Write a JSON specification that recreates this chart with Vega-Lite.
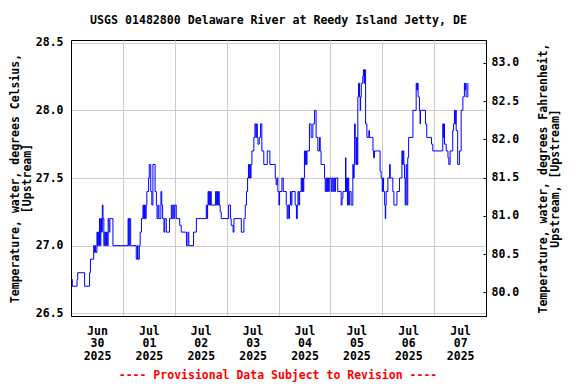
{
 "$schema": "https://vega.github.io/schema/vega-lite/v6.json",
 "width": 415,
 "height": 276,
 "autosize": "none",
 "padding": {"left": 71, "top": 40, "right": 90, "bottom": 68},
 "background": "white",
 "title": {"text": "USGS 01482800 Delaware River at Reedy Island Jetty, DE", "anchor": "middle", "frame": "group", "font": "DejaVu Sans Mono", "fontSize": 11.6, "fontWeight": "bold", "color": "black", "offset": 1, "baseline": "alphabetic"},
 "data": {"values": [
  {"t":"2025-06-30T00:00","v":26.75},{"t":"2025-06-30T00:36","v":26.7},{"t":"2025-06-30T02:48","v":26.75},{"t":"2025-06-30T03:06","v":26.8},
  {"t":"2025-06-30T06:18","v":26.7},{"t":"2025-06-30T08:36","v":26.8},{"t":"2025-06-30T09:00","v":26.9},{"t":"2025-06-30T10:30","v":27.0},
  {"t":"2025-06-30T10:48","v":26.95},{"t":"2025-06-30T11:06","v":27.0},{"t":"2025-06-30T11:24","v":26.95},{"t":"2025-06-30T12:00","v":27.1},
  {"t":"2025-06-30T12:18","v":27.0},{"t":"2025-06-30T12:36","v":27.1},{"t":"2025-06-30T12:54","v":27.0},{"t":"2025-06-30T13:12","v":27.2},
  {"t":"2025-06-30T13:30","v":27.0},{"t":"2025-06-30T13:48","v":27.2},{"t":"2025-06-30T14:06","v":27.1},{"t":"2025-06-30T14:30","v":27.3},
  {"t":"2025-06-30T14:48","v":27.2},{"t":"2025-06-30T15:12","v":27.0},{"t":"2025-06-30T15:36","v":27.1},{"t":"2025-06-30T16:00","v":27.0},
  {"t":"2025-06-30T16:24","v":27.1},{"t":"2025-06-30T16:48","v":27.0},{"t":"2025-06-30T17:12","v":27.2},{"t":"2025-06-30T17:36","v":27.1},
  {"t":"2025-06-30T18:00","v":27.2},{"t":"2025-06-30T19:24","v":27.0},
  {"t":"2025-07-01T02:24","v":27.2},{"t":"2025-07-01T02:42","v":27.0},{"t":"2025-07-01T03:00","v":27.2},{"t":"2025-07-01T03:36","v":27.0},
  {"t":"2025-07-01T06:12","v":26.9},{"t":"2025-07-01T06:48","v":27.0},{"t":"2025-07-01T07:00","v":26.9},{"t":"2025-07-01T07:36","v":27.0},
  {"t":"2025-07-01T08:00","v":27.1},{"t":"2025-07-01T08:36","v":27.2},{"t":"2025-07-01T09:18","v":27.3},{"t":"2025-07-01T09:36","v":27.2},
  {"t":"2025-07-01T10:00","v":27.3},{"t":"2025-07-01T10:24","v":27.2},{"t":"2025-07-01T10:48","v":27.3},{"t":"2025-07-01T11:06","v":27.4},
  {"t":"2025-07-01T11:54","v":27.5},{"t":"2025-07-01T12:12","v":27.6},{"t":"2025-07-01T12:54","v":27.4},{"t":"2025-07-01T13:24","v":27.3},
  {"t":"2025-07-01T13:54","v":27.6},{"t":"2025-07-01T14:54","v":27.4},{"t":"2025-07-01T15:30","v":27.3},{"t":"2025-07-01T15:48","v":27.2},
  {"t":"2025-07-01T16:18","v":27.3},{"t":"2025-07-01T16:42","v":27.2},{"t":"2025-07-01T17:36","v":27.4},{"t":"2025-07-01T18:00","v":27.3},
  {"t":"2025-07-01T18:24","v":27.2},{"t":"2025-07-01T19:00","v":27.1},{"t":"2025-07-01T19:24","v":27.2},{"t":"2025-07-01T20:06","v":27.1},
  {"t":"2025-07-01T21:36","v":27.2},{"t":"2025-07-01T22:24","v":27.3},{"t":"2025-07-01T22:48","v":27.2},{"t":"2025-07-01T23:12","v":27.3},
  {"t":"2025-07-01T23:36","v":27.2},
  {"t":"2025-07-02T00:00","v":27.3},{"t":"2025-07-02T00:42","v":27.2},{"t":"2025-07-02T02:18","v":27.15},{"t":"2025-07-02T03:00","v":27.1},
  {"t":"2025-07-02T05:24","v":27.0},{"t":"2025-07-02T06:06","v":27.1},{"t":"2025-07-02T06:30","v":27.0},{"t":"2025-07-02T08:42","v":27.1},
  {"t":"2025-07-02T10:00","v":27.2},{"t":"2025-07-02T14:36","v":27.3},{"t":"2025-07-02T14:54","v":27.2},{"t":"2025-07-02T15:12","v":27.3},
  {"t":"2025-07-02T15:24","v":27.4},{"t":"2025-07-02T15:42","v":27.3},{"t":"2025-07-02T16:00","v":27.4},{"t":"2025-07-02T16:18","v":27.3},
  {"t":"2025-07-02T16:36","v":27.4},{"t":"2025-07-02T16:54","v":27.3},{"t":"2025-07-02T18:54","v":27.4},{"t":"2025-07-02T19:12","v":27.3},
  {"t":"2025-07-02T19:30","v":27.4},{"t":"2025-07-02T19:48","v":27.3},{"t":"2025-07-02T20:18","v":27.4},{"t":"2025-07-02T20:36","v":27.3},
  {"t":"2025-07-02T21:00","v":27.25},{"t":"2025-07-02T21:30","v":27.2},
  {"t":"2025-07-03T00:54","v":27.3},{"t":"2025-07-03T01:48","v":27.2},{"t":"2025-07-03T02:06","v":27.15},{"t":"2025-07-03T03:00","v":27.1},
  {"t":"2025-07-03T03:24","v":27.2},{"t":"2025-07-03T06:48","v":27.1},{"t":"2025-07-03T08:00","v":27.2},{"t":"2025-07-03T08:36","v":27.3},
  {"t":"2025-07-03T09:12","v":27.4},{"t":"2025-07-03T09:42","v":27.5},{"t":"2025-07-03T10:06","v":27.6},{"t":"2025-07-03T10:24","v":27.5},
  {"t":"2025-07-03T10:42","v":27.6},{"t":"2025-07-03T11:00","v":27.5},{"t":"2025-07-03T11:18","v":27.6},{"t":"2025-07-03T11:42","v":27.7},
  {"t":"2025-07-03T12:36","v":27.8},{"t":"2025-07-03T13:06","v":27.9},{"t":"2025-07-03T13:30","v":27.8},{"t":"2025-07-03T13:54","v":27.9},
  {"t":"2025-07-03T14:12","v":27.8},{"t":"2025-07-03T14:30","v":27.75},{"t":"2025-07-03T15:06","v":27.8},{"t":"2025-07-03T15:42","v":27.9},
  {"t":"2025-07-03T16:18","v":27.7},{"t":"2025-07-03T17:12","v":27.6},{"t":"2025-07-03T18:48","v":27.7},{"t":"2025-07-03T20:00","v":27.6},
  {"t":"2025-07-03T22:30","v":27.5},{"t":"2025-07-03T22:54","v":27.45},{"t":"2025-07-03T23:18","v":27.5},{"t":"2025-07-03T23:42","v":27.4},
  {"t":"2025-07-04T00:12","v":27.3},{"t":"2025-07-04T00:30","v":27.4},{"t":"2025-07-04T01:36","v":27.5},{"t":"2025-07-04T02:12","v":27.4},
  {"t":"2025-07-04T03:36","v":27.3},{"t":"2025-07-04T04:00","v":27.2},{"t":"2025-07-04T04:24","v":27.3},{"t":"2025-07-04T04:48","v":27.2},
  {"t":"2025-07-04T05:06","v":27.3},{"t":"2025-07-04T05:30","v":27.4},{"t":"2025-07-04T05:48","v":27.3},{"t":"2025-07-04T06:12","v":27.4},
  {"t":"2025-07-04T07:42","v":27.3},{"t":"2025-07-04T08:18","v":27.2},{"t":"2025-07-04T08:42","v":27.3},{"t":"2025-07-04T09:00","v":27.4},
  {"t":"2025-07-04T09:24","v":27.3},{"t":"2025-07-04T09:48","v":27.4},{"t":"2025-07-04T10:30","v":27.5},{"t":"2025-07-04T10:48","v":27.4},
  {"t":"2025-07-04T11:06","v":27.5},{"t":"2025-07-04T11:24","v":27.4},{"t":"2025-07-04T11:42","v":27.5},{"t":"2025-07-04T12:00","v":27.7},
  {"t":"2025-07-04T12:18","v":27.6},{"t":"2025-07-04T12:36","v":27.7},{"t":"2025-07-04T12:54","v":27.6},{"t":"2025-07-04T13:12","v":27.7},
  {"t":"2025-07-04T14:18","v":27.9},{"t":"2025-07-04T15:06","v":27.8},{"t":"2025-07-04T15:54","v":27.9},{"t":"2025-07-04T16:42","v":28.0},
  {"t":"2025-07-04T17:24","v":27.8},{"t":"2025-07-04T18:12","v":27.7},{"t":"2025-07-04T19:00","v":27.8},{"t":"2025-07-04T19:18","v":27.7},
  {"t":"2025-07-04T19:42","v":27.6},{"t":"2025-07-04T21:18","v":27.5},{"t":"2025-07-04T21:36","v":27.4},{"t":"2025-07-04T22:00","v":27.5},
  {"t":"2025-07-04T22:18","v":27.4},{"t":"2025-07-04T22:42","v":27.5},{"t":"2025-07-04T23:06","v":27.4},{"t":"2025-07-04T23:30","v":27.5},
  {"t":"2025-07-05T00:24","v":27.4},{"t":"2025-07-05T00:48","v":27.5},{"t":"2025-07-05T01:12","v":27.4},{"t":"2025-07-05T01:36","v":27.5},
  {"t":"2025-07-05T02:00","v":27.4},{"t":"2025-07-05T02:24","v":27.5},{"t":"2025-07-05T03:24","v":27.4},{"t":"2025-07-05T05:00","v":27.3},
  {"t":"2025-07-05T05:24","v":27.35},{"t":"2025-07-05T05:48","v":27.4},{"t":"2025-07-05T07:00","v":27.65},{"t":"2025-07-05T07:12","v":27.5},
  {"t":"2025-07-05T07:24","v":27.4},{"t":"2025-07-05T07:36","v":27.5},{"t":"2025-07-05T07:54","v":27.3},{"t":"2025-07-05T08:12","v":27.5},
  {"t":"2025-07-05T08:30","v":27.3},{"t":"2025-07-05T08:54","v":27.4},{"t":"2025-07-05T09:36","v":27.3},{"t":"2025-07-05T10:24","v":27.6},
  {"t":"2025-07-05T10:42","v":27.5},{"t":"2025-07-05T11:00","v":27.6},{"t":"2025-07-05T11:12","v":27.9},{"t":"2025-07-05T11:30","v":27.8},
  {"t":"2025-07-05T11:48","v":27.6},{"t":"2025-07-05T12:06","v":27.8},{"t":"2025-07-05T12:24","v":27.6},{"t":"2025-07-05T12:42","v":28.1},
  {"t":"2025-07-05T13:00","v":28.2},{"t":"2025-07-05T13:30","v":28.1},{"t":"2025-07-05T13:48","v":28.0},{"t":"2025-07-05T14:00","v":28.1},
  {"t":"2025-07-05T14:18","v":28.2},{"t":"2025-07-05T15:00","v":28.25},{"t":"2025-07-05T15:18","v":28.3},{"t":"2025-07-05T15:36","v":28.2},
  {"t":"2025-07-05T15:48","v":28.3},{"t":"2025-07-05T16:18","v":27.9},{"t":"2025-07-05T16:54","v":27.8},{"t":"2025-07-05T17:48","v":27.85},
  {"t":"2025-07-05T18:06","v":27.8},{"t":"2025-07-05T19:42","v":27.7},{"t":"2025-07-05T20:00","v":27.65},{"t":"2025-07-05T20:24","v":27.7},
  {"t":"2025-07-05T23:00","v":27.55},{"t":"2025-07-05T23:30","v":27.5},
  {"t":"2025-07-06T00:00","v":27.4},{"t":"2025-07-06T00:18","v":27.5},{"t":"2025-07-06T00:36","v":27.4},{"t":"2025-07-06T01:06","v":27.3},
  {"t":"2025-07-06T01:24","v":27.2},{"t":"2025-07-06T01:36","v":27.3},{"t":"2025-07-06T01:48","v":27.4},{"t":"2025-07-06T02:36","v":27.5},
  {"t":"2025-07-06T03:24","v":27.6},{"t":"2025-07-06T03:42","v":27.5},{"t":"2025-07-06T04:54","v":27.4},{"t":"2025-07-06T05:24","v":27.3},
  {"t":"2025-07-06T06:48","v":27.4},{"t":"2025-07-06T08:00","v":27.5},{"t":"2025-07-06T09:06","v":27.7},{"t":"2025-07-06T09:24","v":27.6},
  {"t":"2025-07-06T09:42","v":27.7},{"t":"2025-07-06T10:00","v":27.6},{"t":"2025-07-06T10:18","v":27.5},{"t":"2025-07-06T10:36","v":27.3},
  {"t":"2025-07-06T10:54","v":27.5},{"t":"2025-07-06T11:06","v":27.6},{"t":"2025-07-06T11:24","v":27.3},{"t":"2025-07-06T11:48","v":27.65},
  {"t":"2025-07-06T12:12","v":27.8},{"t":"2025-07-06T14:12","v":28.0},{"t":"2025-07-06T15:42","v":28.2},{"t":"2025-07-06T16:00","v":28.15},
  {"t":"2025-07-06T16:18","v":28.2},{"t":"2025-07-06T16:36","v":28.1},{"t":"2025-07-06T17:12","v":28.0},{"t":"2025-07-06T17:30","v":27.9},
  {"t":"2025-07-06T17:42","v":28.0},{"t":"2025-07-06T20:00","v":27.9},{"t":"2025-07-06T20:36","v":27.8},{"t":"2025-07-06T22:48","v":27.75},
  {"t":"2025-07-06T23:24","v":27.7},
  {"t":"2025-07-07T04:00","v":27.9},{"t":"2025-07-07T04:18","v":27.8},{"t":"2025-07-07T04:36","v":27.9},{"t":"2025-07-07T04:48","v":27.75},
  {"t":"2025-07-07T05:36","v":27.7},{"t":"2025-07-07T06:24","v":27.65},{"t":"2025-07-07T06:48","v":27.6},{"t":"2025-07-07T07:24","v":27.7},
  {"t":"2025-07-07T08:36","v":27.85},{"t":"2025-07-07T09:00","v":27.9},{"t":"2025-07-07T09:24","v":28.0},{"t":"2025-07-07T09:42","v":27.9},
  {"t":"2025-07-07T10:00","v":28.0},{"t":"2025-07-07T10:12","v":27.85},{"t":"2025-07-07T10:54","v":27.6},{"t":"2025-07-07T11:42","v":27.7},
  {"t":"2025-07-07T12:30","v":28.0},{"t":"2025-07-07T13:18","v":28.1},{"t":"2025-07-07T14:00","v":28.2},{"t":"2025-07-07T14:18","v":28.15},
  {"t":"2025-07-07T14:36","v":28.2},{"t":"2025-07-07T14:48","v":28.1},{"t":"2025-07-07T15:36","v":28.2},{"t":"2025-07-07T15:48","v":28.2}
 ]},
 "layer": [
  {
   "mark": {"type": "line", "interpolate": "step-after", "color": "#0000ff", "strokeWidth": 1, "clip": true},
   "encoding": {
    "x": {
     "field": "t", "type": "temporal",
     "scale": {"domain": [{"year": 2025, "month": "jun", "date": 30}, {"year": 2025, "month": "jul", "date": 8}], "nice": false},
     "axis": {
      "values": [
       {"year": 2025, "month": "jun", "date": 30}, {"year": 2025, "month": "jul", "date": 1},
       {"year": 2025, "month": "jul", "date": 2}, {"year": 2025, "month": "jul", "date": 3},
       {"year": 2025, "month": "jul", "date": 4}, {"year": 2025, "month": "jul", "date": 5},
       {"year": 2025, "month": "jul", "date": 6}, {"year": 2025, "month": "jul", "date": 7}
      ],
      "labelExpr": "[timeFormat(datum.value, '%b'), timeFormat(datum.value, '%d'), timeFormat(datum.value, '%Y')]",
      "labelOffset": 26, "labelAlign": "center", "labelBaseline": "top", "labelPadding": 9, "labelLineHeight": 12.8,
      "labelOverlap": false, "labelFlush": false, "labelBound": false,
      "tickSize": 0, "grid": true,
      "title": "---- Provisional Data Subject to Revision ----", "titleColor": "#ff0000",
      "titleX": 206.5, "titleY": 62, "titleBaseline": "alphabetic", "titleAlign": "center"
     }
    },
    "y": {
     "field": "v", "type": "quantitative",
     "scale": {"domain": [26.48, 28.52], "nice": false, "zero": false},
     "axis": {
      "values": [26.5, 27.0, 27.5, 28.0, 28.5], "format": ".1f", "grid": true, "tickSize": 0, "labelPadding": 8,
      "title": ["Temperature, water, degrees Celsius,", "[Upstream]"],
      "titleAngle": 270, "titleX": -56, "titleY": 138, "titleBaseline": "middle", "titleAlign": "center", "titleLineHeight": 12
     }
    }
   }
  },
  {
   "data": {"values": [{"degF": 79.69}, {"degF": 83.3}]},
   "mark": {"type": "point", "opacity": 0},
   "encoding": {
    "y": {
     "field": "degF", "type": "quantitative",
     "scale": {"domain": [79.69, 83.3], "nice": false, "zero": false},
     "axis": {
      "orient": "right", "values": [80.0, 80.5, 81.0, 81.5, 82.0, 82.5, 83.0], "format": ".1f", "grid": false,
      "tickSize": -3, "labelPadding": 8,
      "title": ["Temperature, water, degrees Fahrenheit,", "Upstream, [Upstream]"],
      "titleAngle": 270, "titleX": 57, "titleY": 138, "titleBaseline": "middle", "titleAlign": "center", "titleLineHeight": 12
     }
    }
   }
  }
 ],
 "resolve": {"scale": {"y": "independent"}, "axis": {"y": "independent"}},
 "config": {
  "font": "DejaVu Sans Mono",
  "view": {"stroke": "black", "strokeWidth": 1},
  "axis": {
   "labelFont": "DejaVu Sans Mono", "labelFontSize": 11.5, "labelFontWeight": "bold", "labelColor": "black",
   "titleFont": "DejaVu Sans Mono", "titleFontSize": 11.5, "titleFontWeight": "bold", "titleColor": "black",
   "domainColor": "black", "tickColor": "black", "gridColor": "#cccccc", "gridWidth": 1
  }
 }
}
